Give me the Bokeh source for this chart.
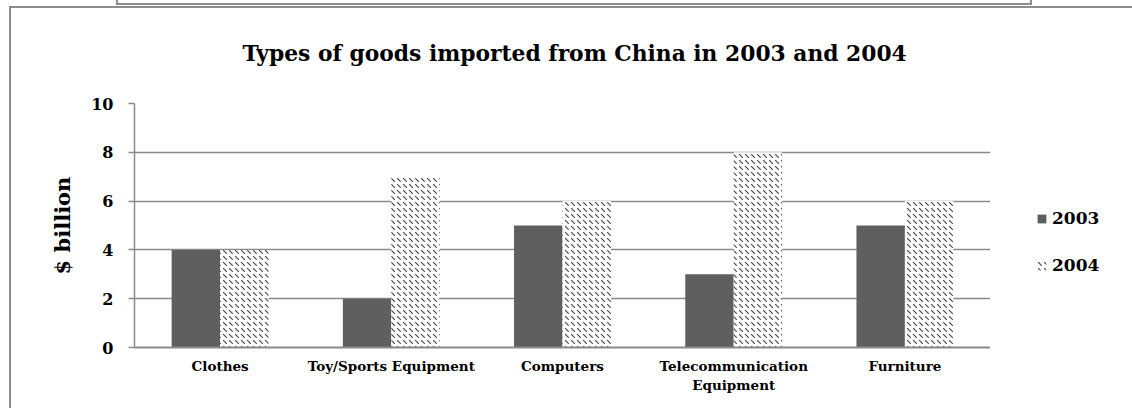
from bokeh.plotting import figure
from bokeh.layouts import row
from bokeh.models import (ColumnDataSource, FactorRange, Range1d, Legend, LegendItem,
                          FixedTicker, InlineStyleSheet, Title)
from bokeh.transform import dodge
from bokeh.embed import file_html
from bokeh.resources import INLINE

categories = ["Clothes", "Toy/Sports Equipment", "Computers",
              "Telecommunication\nEquipment", "Furniture"]
values_2003 = [4, 2, 5, 3, 5]
values_2004 = [4, 7, 6, 8, 6]
series_names = ["2003", "2004"]
y_ticks = [0, 2, 4, 6, 8, 10]
title_text = "Types of goods imported from China in 2003 and 2004"

FONT = "DejaVu Serif"
GRID = "#8a8a8a"
STYLE_2003 = dict(fill_color="#5f5f5f", line_color=None)
STYLE_2004 = dict(fill_color="white", line_color=None, hatch_pattern="left_diagonal_dash",
                  hatch_color="#4a4a4a", hatch_scale=6, hatch_weight=1.1)

src = ColumnDataSource(dict(cat=categories, y2003=values_2003, y2004=values_2004))

p = figure(x_range=FactorRange(*categories), y_range=Range1d(0, 10),
           width=979, height=400, output_backend="svg", toolbar_location=None,
           min_border_left=123, min_border_right=0, min_border_top=95,
           min_border_bottom=61, title_location=None)

p.outline_line_color = None
p.background_fill_color = "white"
p.border_fill_color = "white"

# spacer (nearest the frame) and main title above it
spacer = Title(text=" ", text_font_size="2px", standoff=6)
main_title = Title(text=title_text, text_font=FONT, text_font_style="bold",
                   text_font_size="21.8px", text_color="black", align="left",
                   offset=108, vertical_align="top", standoff=52)
p.add_layout(spacer, "above")
p.add_layout(main_title, "above")

r1 = p.vbar(x=dodge("cat", -0.1415, range=p.x_range), top="y2003", width=0.283,
            source=src, **STYLE_2003)
r2 = p.vbar(x=dodge("cat", 0.1415, range=p.x_range), top="y2004", width=0.283,
            source=src, **STYLE_2004)

# axes
p.yaxis.ticker = FixedTicker(ticks=y_ticks)
p.yaxis.axis_label = "$ billion"
p.yaxis.axis_label_text_font = FONT
p.yaxis.axis_label_text_font_style = "bold"
p.yaxis.axis_label_text_font_size = "21px"
p.yaxis.axis_label_text_color = "black"
p.yaxis.axis_label_standoff = 13
p.yaxis.major_label_text_font = FONT
p.yaxis.major_label_text_font_style = "bold"
p.yaxis.major_label_text_font_size = "16px"
p.yaxis.major_label_text_color = "black"
p.yaxis.major_label_standoff = 15
p.yaxis.major_tick_out = 6
p.yaxis.major_tick_in = 0
p.yaxis.minor_tick_line_color = None
p.yaxis.axis_line_color = GRID
p.yaxis.axis_line_width = 1.5
p.yaxis.major_tick_line_color = GRID
p.yaxis.major_tick_line_width = 1.5

p.xaxis.major_label_text_font = FONT
p.xaxis.major_label_text_font_style = "bold"
p.xaxis.major_label_text_font_size = "13.5px"
p.xaxis.major_label_text_color = "black"
p.xaxis.major_label_standoff = 10
p.xaxis.major_tick_out = 0
p.xaxis.major_tick_in = 0
p.xaxis.axis_line_color = GRID
p.xaxis.axis_line_width = 2

p.xgrid.grid_line_color = None
p.ygrid.grid_line_color = GRID
p.ygrid.grid_line_width = 1.5

# legend panel on the right (zero-width copies of the bars; only the legend shows)
lf = figure(width=142, height=400, output_backend="svg", toolbar_location=None,
            x_axis_type=None, y_axis_type=None, x_range=FactorRange(*categories),
            y_range=Range1d(100, 101), min_border=0)
lf.outline_line_color = None
lf.background_fill_color = "white"
lf.border_fill_color = "white"
l1 = lf.vbar(x=dodge("cat", -0.1415, range=lf.x_range), top="y2003", width=0,
             source=src, **STYLE_2003)
l2 = lf.vbar(x=dodge("cat", 0.1415, range=lf.x_range), top="y2004", width=0,
             source=src, **STYLE_2004)
legend = Legend(items=[LegendItem(label=series_names[0], renderers=[l1]),
                       LegendItem(label=series_names[1], renderers=[l2])],
                location=(46, 72), padding=0, margin=0, spacing=27,
                glyph_width=11, glyph_height=11, label_height=20, label_standoff=5,
                label_text_font=FONT, label_text_font_style="bold",
                label_text_font_size="17px", label_text_color="black",
                border_line_color=None, background_fill_alpha=0)
lf.add_layout(legend)

layout = row(p, lf, spacing=0)
layout.styles = {"border-top": "2px solid #8c8c8c", "border-left": "2px solid #8c8c8c",
                 "margin-left": "9px", "margin-top": "6px"}
layout.stylesheets = [InlineStyleSheet(css=""":host { overflow: visible !important; }
:host::before { content: ''; position: absolute; left: 105px; top: -13px; width: 916px;
 height: 10px; border: 2px solid #8c8c8c; border-top: none; box-sizing: border-box; }""")]

open("out.html", "w").write(file_html(layout, INLINE))
